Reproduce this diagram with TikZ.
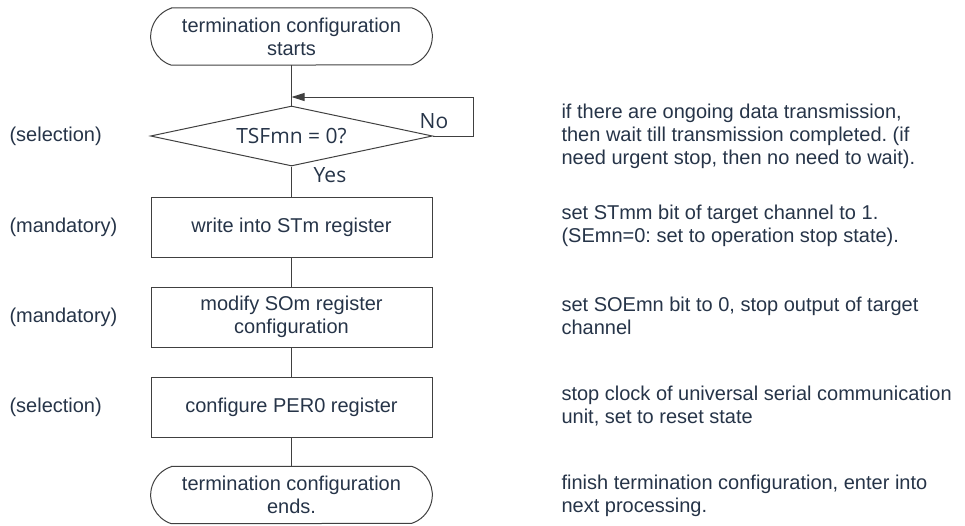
\documentclass[tikz,border=0pt]{standalone}
\usepackage{fontspec}
\setmainfont{Liberation Sans}
\newfontfamily\uifont{Open Sans}
\usetikzlibrary{arrows.meta}
\usetikzlibrary{shapes.geometric}
\definecolor{qtext}{RGB}{38,52,72}
\definecolor{qline}{RGB}{64,64,64}
\frenchspacing

\begin{document}
\begin{tikzpicture}[x=1pt,y=-1pt,
  every node/.style={text=qtext,font=\fontsize{20}{23}\selectfont},
  link/.style={draw=qline,line width=1pt},
  box/.style={link,minimum width=281pt,minimum height=60pt,align=center,inner sep=0pt},
  term/.style={minimum width=281pt,minimum height=57pt,align=center,inner sep=0pt},
  decide/.style={link,diamond,aspect=4.7,minimum width=282pt,minimum height=60pt,inner sep=0pt,font=\uifont\fontsize{21}{23}\selectfont},
  tag/.style={anchor=west},
  note/.style={anchor=west,align=left},
  yesno/.style={font=\uifont\fontsize{21}{23}\selectfont}]
\useasboundingbox (0,0) rectangle (965,525);
\def\cx{291.5}%flow centre
\def\bend{20.6}%straight part starts here
\def\rr{30}%end arc radius

 % terminals
 \node[term] (start) at (\cx,36.5) {termination configuration\\starts};
 \node[term] (stop) at (\cx,495) {termination configuration\\ends.};
 \foreach \t in {start,stop}{
   \draw[link] ([xshift=\bend pt]\t.north west) -- ([xshift=-\bend pt]\t.north east)
     arc[start angle=-72,end angle=72,radius=\rr] -- ([xshift=\bend pt]\t.south west)
     arc[start angle=108,end angle=252,radius=\rr] -- cycle;
 }

 % decision
 \node[decide] (test) at (\cx,136) {TSFmn = 0?};
 \coordinate (merge) at (\cx,97);
 \coordinate (loop) at (473,97);

 % steps
 \foreach \nm/\yy/\txt in {write/227/write into STm register,
     modify/317/{modify SOm register\\configuration},
     per/407/configure PER0 register}
   \node[box] (\nm) at (\cx,\yy) {\txt};

 % connectors
 \draw[link] (start) -- (test);
 \draw[link,-{Triangle[length=13pt,width=8pt]}] (test.east) -| (loop) -- (merge);
 \draw[link] (test) -- (write);
 \draw[link] (write) -- (modify);
 \draw[link] (modify) -- (per);
 \draw[link] (per) -- (stop);
 \node[yesno] (no) at (434,121) {No};
 \node[yesno] (yes) at (330,175) {Yes};

 % left tags
 \foreach \yy/\txt [count=\i] in {136/selection,227/mandatory,317/mandatory,407/selection}
   \node[tag] (tag\i) at (6,\yy) {(\txt)};

 % right notes
 \foreach \yy/\txt [count=\i] in {136/{if there are ongoing data transmission,\\then wait till transmission completed. (if\\need urgent stop, then no need to wait).},
     226/{set STmm bit of target channel to 1.\\(SEmn=0: set to operation stop state).},
     316/{set SOEmn bit to 0, stop output of target\\channel},
     406/{stop clock of universal serial communication\\unit, set to reset state},
     496/{finish termination configuration, enter into\\next processing.}}
   \node[note] (note\i) at (558,\yy) {\txt};
\end{tikzpicture}
\end{document}
